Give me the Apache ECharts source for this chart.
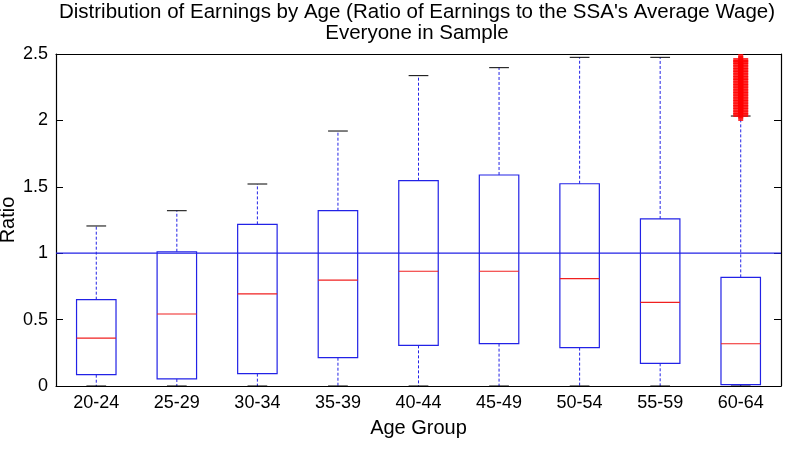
<!DOCTYPE html>
<html>
<head>
<meta charset="utf-8">
<script src="https://cdn.jsdelivr.net/npm/echarts@6/dist/echarts.min.js"></script>
<style>
  html, body { margin: 0; padding: 0; background: #fff; }
  #chart { width: 788px; height: 464px; }
</style>
</head>
<body>
<div id="chart"></div>
<script>
// age groups on the x axis
const ageGroups = ['20-24', '25-29', '30-34', '35-39', '40-44', '45-49', '50-54', '55-59', '60-64'];

// box statistics
const lowerWhisker = [0, 0, 0, 0, 0, 0, 0, 0, 0];
const q1 = [0.085, 0.053, 0.093, 0.213, 0.306, 0.319, 0.289, 0.171, 0.01];
const medians = [0.361, 0.542, 0.693, 0.798, 0.864, 0.864, 0.808, 0.63, 0.318];
const q3 = [0.65, 1.011, 1.217, 1.32, 1.546, 1.589, 1.523, 1.258, 0.818];
const upperWhisker = [1.205, 1.32, 1.521, 1.92, 2.337, 2.397, 2.475, 2.475, 2.033];

// outliers of the 60-64 group (dense column of red crosses)
const outliers6064 = [2.04, 2.06, 2.08, 2.1, 2.12, 2.14, 2.16, 2.18, 2.2, 2.22, 2.24, 2.26,
  2.28, 2.3, 2.32, 2.34, 2.36, 2.38, 2.4, 2.42, 2.44, 2.455];

const yTicks = { min: 0, max: 2.5, interval: 0.5 };
const refLine = [1];

const chart = echarts.init(document.getElementById('chart'));

const boxData = ageGroups.map((g, i) => [i, lowerWhisker[i], q1[i], medians[i], q3[i], upperWhisker[i]]);
const outlierData = outliers6064.map(v => [8, v]);

const FONT = 'Liberation Sans, Arial, sans-serif';
const BLUE = '#2222e6';

// matlab style box: blue box, red median, dashed blue whiskers, black caps
function renderBox(params, api) {
  const i = api.value(0);
  const lo = api.coord([i, api.value(1)]);
  const b1 = api.coord([i, api.value(2)]);
  const md = api.coord([i, api.value(3)]);
  const b3 = api.coord([i, api.value(4)]);
  const hi = api.coord([i, api.value(5)]);
  const bw = api.size([1, 0])[0] * 0.49;
  const cx = lo[0];
  const cap = bw / 2;
  return {
    type: 'group',
    children: [
      { type: 'line', shape: { x1: cx, y1: b3[1], x2: cx, y2: hi[1] },
        style: { stroke: BLUE, lineWidth: 1, lineDash: [3, 2] } },
      { type: 'line', shape: { x1: cx, y1: b1[1], x2: cx, y2: lo[1] },
        style: { stroke: BLUE, lineWidth: 1, lineDash: [3, 2] } },
      { type: 'line', shape: { x1: cx - cap / 2, y1: hi[1], x2: cx + cap / 2, y2: hi[1] },
        style: { stroke: '#000', lineWidth: 1 } },
      { type: 'line', shape: { x1: cx - cap / 2, y1: lo[1], x2: cx + cap / 2, y2: lo[1] },
        style: { stroke: '#000', lineWidth: 1 } },
      { type: 'rect', shape: { x: cx - bw / 2, y: b3[1], width: bw, height: b1[1] - b3[1] },
        style: { stroke: BLUE, fill: null, lineWidth: 1.2 } },
      { type: 'line', shape: { x1: cx - bw / 2, y1: md[1], x2: cx + bw / 2, y2: md[1] },
        style: { stroke: '#f02020', lineWidth: 1.2 } }
    ]
  };
}

// horizontal reference line across the whole plot
function renderRef(params, api) {
  const cs = params.coordSys;
  const y = api.coord([0, api.value(0)])[1];
  return {
    type: 'line',
    shape: { x1: cs.x, y1: y, x2: cs.x + cs.width, y2: y },
    style: { stroke: BLUE, lineWidth: 1.2 }
  };
}

const option = {
  backgroundColor: '#fff',
  animation: false,
  title: {
    text: "Distribution of Earnings by Age (Ratio of Earnings to the SSA's Average Wage)\nEveryone in Sample",
    left: 412,
    textAlign: 'center',
    top: -3,
    textStyle: { fontFamily: FONT, fontSize: 20.5, fontWeight: 'normal', color: '#000', lineHeight: 21 }
  },
  grid: { left: 56, right: 7, top: 54, bottom: 78, outerBoundsMode: 'none' },
  xAxis: [
    {
      type: 'category',
      data: ageGroups,
      name: 'Age Group',
      nameLocation: 'middle',
      nameGap: 32,
      nameTextStyle: { fontFamily: FONT, fontSize: 20, color: '#000' },
      axisLine: { lineStyle: { color: '#000', width: 1.2 } },
      axisTick: { inside: true, length: 7, alignWithLabel: true, lineStyle: { color: '#000' } },
      axisLabel: { fontFamily: FONT, fontSize: 18, color: '#000', margin: 8 },
      splitLine: { show: false }
    },
    {
      type: 'category',
      data: ageGroups,
      position: 'top',
      axisLine: { onZero: false, lineStyle: { color: '#000', width: 1.2 } },
      axisTick: { inside: true, length: 7, alignWithLabel: true, lineStyle: { color: '#000' } },
      axisLabel: { show: false },
      splitLine: { show: false }
    }
  ],
  yAxis: [
    {
      type: 'value',
      min: yTicks.min,
      max: yTicks.max,
      interval: yTicks.interval,
      name: 'Ratio',
      nameLocation: 'middle',
      nameGap: 38,
      nameMoveOverlap: false,
      nameRotate: 90,
      nameTextStyle: { fontFamily: FONT, fontSize: 20, color: '#000' },
      axisLine: { show: true, lineStyle: { color: '#000', width: 1.2 } },
      axisTick: { show: true, inside: true, length: 7, lineStyle: { color: '#000' } },
      axisLabel: { fontFamily: FONT, fontSize: 18, color: '#000', margin: 8 },
      splitLine: { show: false }
    },
    {
      type: 'value',
      min: yTicks.min,
      max: yTicks.max,
      interval: yTicks.interval,
      position: 'right',
      axisLine: { show: true, onZero: false, lineStyle: { color: '#000', width: 1.2 } },
      axisTick: { show: true, inside: true, length: 7, lineStyle: { color: '#000' } },
      axisLabel: { show: false },
      splitLine: { show: false }
    }
  ],
  series: [
    {
      name: 'reference',
      type: 'custom',
      renderItem: renderRef,
      data: refLine.map(v => [v]),
      encode: { y: 0 },
      z: 2
    },
    {
      name: 'boxes',
      type: 'custom',
      renderItem: renderBox,
      data: boxData,
      encode: { x: 0, y: [1, 2, 3, 4, 5] },
      z: 3
    },
    {
      name: 'outliers',
      type: 'scatter',
      data: outlierData,
      symbol: 'path://M5,0h5v5h5v5h-5v5h-5v-5h-5v-5h5z',
      symbolSize: [15, 12],
      itemStyle: { color: '#ff0000' },
      z: 4
    }
  ]
};

chart.setOption(option);
</script>
</body>
</html>
